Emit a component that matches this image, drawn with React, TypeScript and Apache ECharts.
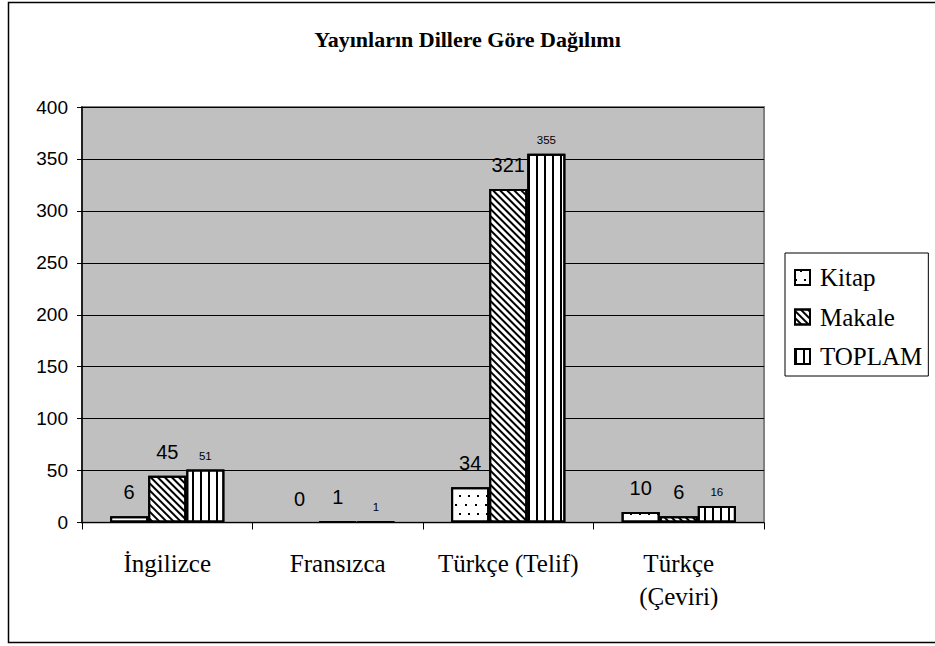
import React, { useEffect, useRef } from "react";
import * as echarts from "echarts";

const categories = ["İngilizce", "Fransızca", "Türkçe (Telif)", "Türkçe\n(Çeviri)"];
const kitap = [6, 0, 34, 10];
const makale = [45, 1, 321, 6];
const toplam = [51, 1, 355, 16];
const seriesNames = ["Kitap", "Makale", "TOPLAM"];
const yTicks = { min: 0, max: 400, interval: 50 };

const SERIF = "'Liberation Serif', 'Times New Roman', serif";
const SANS = "'Liberation Sans', Arial, sans-serif";

const decals: any = {
  Kitap: {
    symbol: "rect",
    symbolSize: 1,
    color: "#000",
    dashArrayX: [[1.5, 7], [0, 4.25, 1.5, 2.75]],
    dashArrayY: [1.5, 7],
    rotation: 0,
  },
  Makale: {
    symbol: "rect",
    symbolSize: 1,
    color: "#000",
    dashArrayX: [1, 0],
    dashArrayY: [1.2, 2.4],
    rotation: Math.PI / 4,
  },
  TOPLAM: {
    symbol: "rect",
    symbolSize: 1,
    color: "#000",
    dashArrayX: [2, 5.5],
    dashArrayY: [1, 0],
    rotation: 0,
  },
};

const labelCfg: any = {
  Kitap: { fontSize: 20, distance: 14 },
  Makale: { fontSize: 20, distance: 14 },
  TOPLAM: { fontSize: 11.5, distance: 8 },
};

function toData(values: number[]) {
  return values.map((v) => (v === 0 ? { value: v, itemStyle: { borderWidth: 0 } } : v));
}

export default function App() {
  const ref = useRef<HTMLDivElement>(null);
  useEffect(() => {
    if (!ref.current) return;
    const chart = echarts.init(ref.current, null, { renderer: "svg" });
    const seriesValues = [kitap, makale, toplam];
    chart.setOption({
      animation: false,
      backgroundColor: "#fff",
      title: {
        text: "Yayınların Dillere Göre Dağılımı",
        left: "center",
        top: 23,
        textStyle: { fontFamily: SERIF, fontWeight: "bold", fontSize: 22, color: "#000" },
      },
      graphic: [
        {
          type: "rect",
          shape: { x: 8.5, y: 2.5, width: 932, height: 640 },
          style: { fill: "none", stroke: "#000", lineWidth: 1.5 },
          silent: true,
          z: 100,
        },
      ],
      legend: {
        orient: "vertical",
        left: 785,
        top: 253,
        padding: [12, 6, 7, 9],
        itemGap: 14.5,
        itemWidth: 15,
        itemHeight: 15,
        icon: "rect",
        backgroundColor: "#fff",
        borderColor: "#000",
        borderWidth: 1,
        textStyle: {
          fontFamily: SERIF,
          fontSize: 25,
          lineHeight: 25,
          color: "#000",
          padding: [0, 0, 0, 5],
        },
        itemStyle: { borderColor: "#000", borderWidth: 2 },
        data: seriesNames,
      },
      grid: {
        left: 82,
        top: 107,
        right: 171,
        bottom: 123.5,
        show: true,
        backgroundColor: "#C0C0C0",
        borderColor: "#808080",
        borderWidth: 2,
      },
      xAxis: {
        type: "category",
        data: categories,
        axisLine: { lineStyle: { color: "#000", width: 1 } },
        axisTick: { show: true, length: 7, lineStyle: { color: "#000" } },
        axisLabel: {
          interval: 0,
          fontFamily: SERIF,
          fontSize: 25,
          color: "#000",
          margin: 24,
          lineHeight: 33,
        },
      },
      yAxis: {
        type: "value",
        min: yTicks.min,
        max: yTicks.max,
        interval: yTicks.interval,
        axisLine: { show: true, lineStyle: { color: "#000", width: 1.5 } },
        axisTick: { show: true, length: 5, lineStyle: { color: "#000" } },
        axisLabel: { fontFamily: SANS, fontSize: 19, color: "#000", margin: 14 },
        splitLine: { show: true, lineStyle: { color: "#000", width: 1 } },
      },
      series: seriesNames.map((name, i) => ({
        name,
        type: "bar",
        data: toData(seriesValues[i]),
        barGap: "0%",
        barCategoryGap: "33%",
        itemStyle: {
          color: "#fff",
          borderColor: "#000",
          borderWidth: 2,
          decal: decals[name],
        },
        label: {
          show: true,
          position: "top",
          distance: labelCfg[name].distance,
          fontFamily: SANS,
          fontSize: labelCfg[name].fontSize,
          color: "#000",
        },
      })),
    });
    return () => chart.dispose();
  }, []);
  return (
    <div
      ref={ref}
      style={{ position: "fixed", left: 0, top: 0, width: 935, height: 646 }}
    />
  );
}
